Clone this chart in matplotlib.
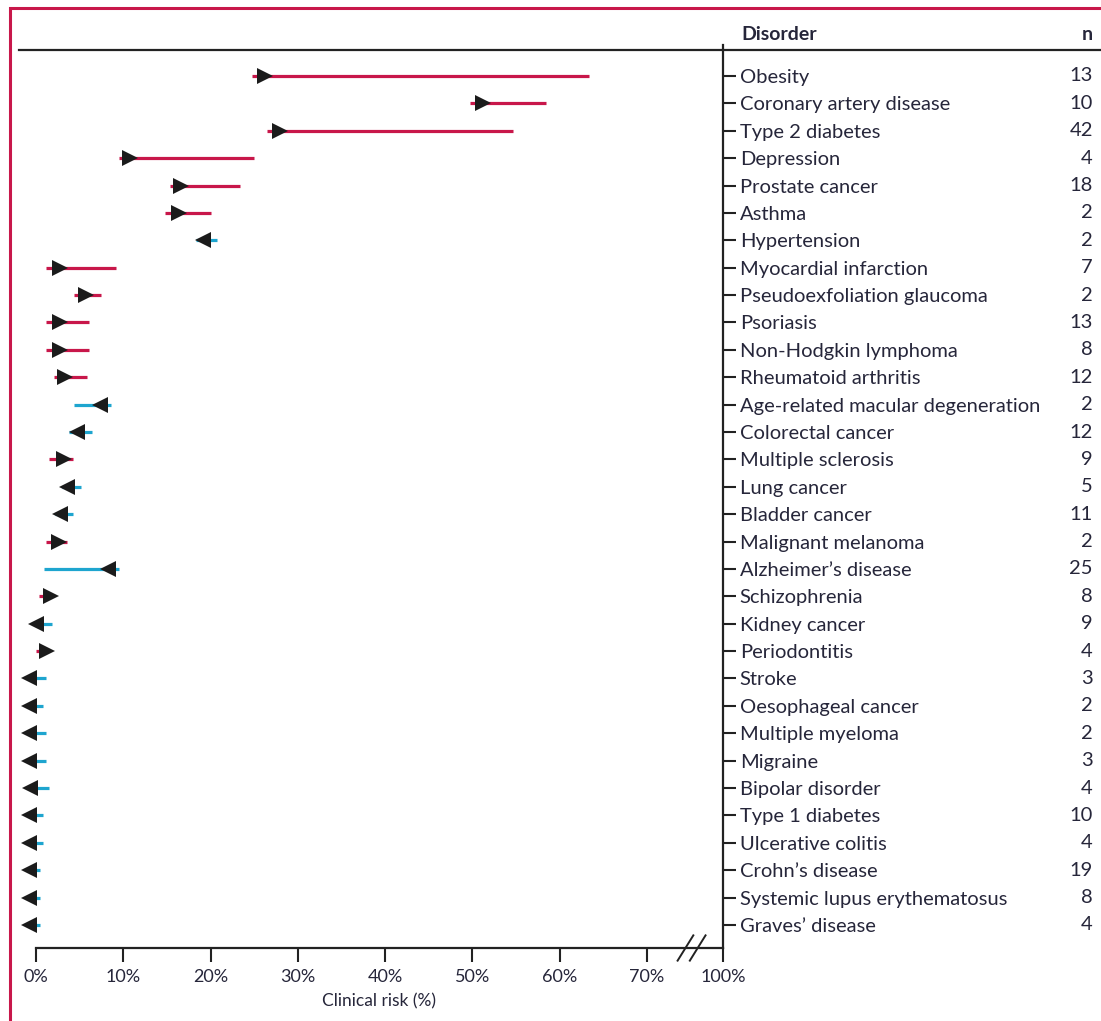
import numpy as np
import matplotlib
matplotlib.use("Agg")
import matplotlib.pyplot as plt
from matplotlib import transforms
from matplotlib.patches import Rectangle
from matplotlib.lines import Line2D

plt.rcParams["font.family"] = ["Lato", "DejaVu Sans"]

disorders = [
	"Obesity", "Coronary artery disease", "Type 2 diabetes", "Depression",
	"Prostate cancer", "Asthma", "Hypertension", "Myocardial infarction",
	"Pseudoexfoliation glaucoma", "Psoriasis", "Non-Hodgkin lymphoma",
	"Rheumatoid arthritis", "Age-related macular degeneration", "Colorectal cancer",
	"Multiple sclerosis", "Lung cancer", "Bladder cancer", "Malignant melanoma",
	"Alzheimer\u2019s disease", "Schizophrenia", "Kidney cancer", "Periodontitis",
	"Stroke", "Oesophageal cancer", "Multiple myeloma", "Migraine",
	"Bipolar disorder", "Type 1 diabetes", "Ulcerative colitis",
	"Crohn\u2019s disease", "Systemic lupus erythematosus", "Graves\u2019 disease",
]
n_studies = [13, 10, 42, 4, 18, 2, 2, 7, 2, 13, 8, 12, 2, 12, 9, 5, 11, 2,
	25, 8, 9, 4, 3, 2, 2, 3, 4, 10, 4, 19, 8, 4]

# +1 = risk goes up (red, arrow right), -1 = goes down (blue, arrow left)
direction = [1, 1, 1, 1, 1, 1, -1, 1, 1, 1, 1, 1, -1, -1, 1, -1, -1, 1,
	-1, 1, -1, 1, -1, -1, -1, -1, -1, -1, -1, -1, -1, -1]
# where the triangle sits (%)
marker_risk = [25.3, 50.3, 27.0, 9.8, 15.7, 15.4, 20.1, 1.8, 4.8, 1.8, 1.8, 2.4,
	8.3, 5.6, 2.2, 4.5, 3.7, 1.7, 9.2, 0.8, 1.0, 0.3, 0.2, 0.2, 0.2, 0.2,
	0.25, 0.2, 0.2, 0.2, 0.2, 0.2]
# range of clinical risk (%)
risk_low = [24.7, 49.7, 26.5, 9.5, 15.4, 14.8, 18.3, 1.1, 4.3, 1.1, 1.1, 2.1,
	4.3, 3.8, 1.5, 3.0, 2.2, 1.2, 0.9, 0.3, 0.2, 0.0, 0.0, 0.0, 0.0, 0.0,
	0.0, 0.0, 0.0, 0.0, 0.0, 0.0]
risk_high = [63.4, 58.4, 54.7, 25.0, 23.4, 20.0, 20.7, 9.2, 7.4, 6.1, 6.1, 5.8,
	8.6, 6.4, 4.2, 5.2, 4.2, 3.6, 9.5, 1.5, 1.8, 1.0, 1.1, 0.8, 1.1, 1.1,
	1.5, 0.8, 0.8, 0.5, 0.5, 0.5]

tick_vals = [0, 10, 20, 30, 40, 50, 60, 70, 100]
tick_labels = ["0%", "10%", "20%", "30%", "40%", "50%", "60%", "70%", "100%"]

RED = "#c8174a"
BLUE = "#1ea5cf"
TEXT = "#26263a"
BREAK_POS = 78.7  # where 100% lands after the axis break

W, H = 1101, 1021
fig = plt.figure(figsize=(W / 100, H / 100), dpi=100)
ax = fig.add_axes([36 / W, 1 - 948 / H, (723 - 36) / W, (948 - 45) / H])

y = np.arange(len(disorders))
ms = 12
for i in range(len(disorders)):
	col = RED if direction[i] > 0 else BLUE
	ax.plot([risk_low[i], risk_high[i]], [y[i], y[i]], color=col, lw=2.3,
		solid_capstyle="butt", zorder=2)
	# shift the triangle so its base sits on the value
	tr = transforms.offset_copy(ax.transData, fig=fig, x=direction[i] * ms / 2, y=0, units="points")
	ax.plot(marker_risk[i], y[i], marker=">" if direction[i] > 0 else "<",
		ms=ms, color="#1b1b1b", mew=0, transform=tr, zorder=3, clip_on=False)

ax.set_xlim(0, BREAK_POS)
ax.set_ylim(31.84, -1.13)

ax.spines["left"].set_visible(False)
ax.spines["top"].set_visible(False)
for s in ("right", "bottom"):
	ax.spines[s].set_linewidth(1.6)
	ax.spines[s].set_color("#222222")

ax.yaxis.tick_right()
ax.set_yticks(y)
ax.set_yticklabels(disorders)
ax.tick_params(axis="y", direction="out", length=9, width=1.5, pad=3,
	labelsize=14.5, labelcolor=TEXT, color="#222222")

xpos = [v if v <= 70 else BREAK_POS for v in tick_vals]
ax.set_xticks(xpos)
ax.set_xticklabels(tick_labels)
ax.tick_params(axis="x", direction="out", length=10, width=1.5, pad=5,
	labelsize=13, labelcolor=TEXT, color="#222222")
ax.set_xlabel("Clinical risk (%)", fontsize=12.5, color=TEXT, labelpad=6)

# axis break marks
xt = ax.get_xaxis_transform()
for bx in (74.4, 75.8):
	ax.plot([bx - 0.9, bx + 0.9], [-0.014, 0.014], color="#222222", lw=1.4,
		transform=xt, clip_on=False)

# n column
nt = transforms.blended_transform_factory(fig.transFigure, ax.transData)
for i, n in enumerate(n_studies):
	ax.text(1093 / W, y[i], str(n), transform=nt, ha="right", va="center",
		fontsize=14.5, color=TEXT)

# header
fig.text(741 / W, 1 - 34 / H, "Disorder", ha="left", va="center",
	fontsize=14, weight="bold", color=TEXT)
fig.text(1093 / W, 1 - 34 / H, "n", ha="right", va="center",
	fontsize=14, weight="bold", color=TEXT)
fig.add_artist(Line2D([19 / W, 1.0], [1 - 50 / H, 1 - 50 / H],
	transform=fig.transFigure, color="#222222", lw=1.6))

# page border
fig.add_artist(Rectangle((10 / W, -0.05), 1.1, 1 - 8 / H + 0.05,
	transform=fig.transFigure, fill=False, edgecolor=RED, lw=2.2))

fig.savefig("out.png", dpi=100)
